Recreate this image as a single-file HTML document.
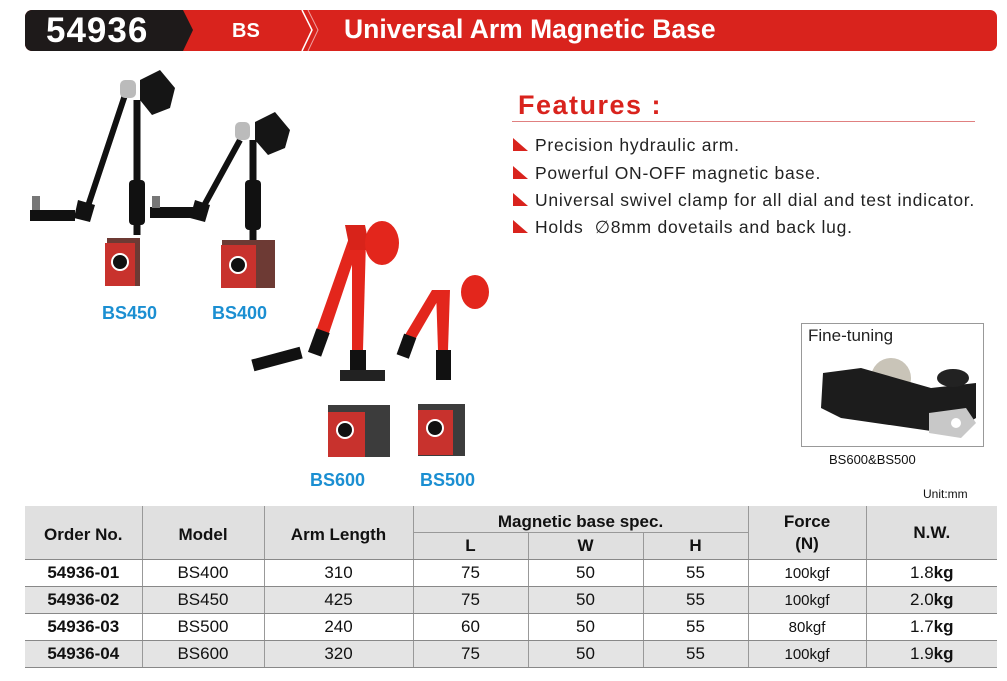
<!DOCTYPE html>
<html><head><meta charset="utf-8"><style>
body{margin:0;width:1007px;height:681px;background:#fff;position:relative;overflow:hidden;font-family:"Liberation Sans",Arial,sans-serif}
.a{position:absolute}
table{position:absolute;left:25px;top:506px;border-collapse:collapse;font-size:17px;color:#111;table-layout:fixed;width:972px}
td{border:1px solid #999;border-top:none;border-bottom:none;text-align:center;padding:0;height:26px;white-space:nowrap}
tr.r td{border-bottom:1.5px solid #888}
tr.g td{background:#e4e4e4}
.h td{background:#e0e0e0;font-weight:bold}
.f{font-size:17.5px;color:#222;letter-spacing:0.75px;position:absolute;left:535px;white-space:nowrap}
.tri{position:absolute;left:513px;width:0;height:0;border-left:15px solid #d9231d;border-top:13px solid transparent}
</style></head><body>
<!-- header -->
<div class="a" style="left:25px;top:10px;width:972px;height:41px;background:#d9231d;border-radius:7px"></div>
<div class="a" style="left:25px;top:10px;width:155px;height:41px;background:#1e1a1a;border-radius:7px 0 0 7px"></div>
<svg class="a" style="left:175px;top:10px" width="20" height="41"><polygon points="0,0 8,0 18,20 8,41 0,41" fill="#1e1a1a"/></svg>
<svg class="a" style="left:300px;top:10px" width="30" height="41"><polyline points="2,0 12,20 2,41" fill="none" stroke="#fff" stroke-width="1.5"/><polyline points="8,0 18,20 8,41" fill="none" stroke="#f0a0a0" stroke-width="1"/></svg>
<div class="a" style="left:46px;top:11px;color:#fff;font-weight:bold;font-size:35px;letter-spacing:1px">54936</div>
<div class="a" style="left:232px;top:20px;color:#fff;font-weight:bold;font-size:20px">BS</div>
<div class="a" style="left:344px;top:14px;color:#fff;font-weight:bold;font-size:26.5px">Universal Arm Magnetic Base</div>
<!-- features -->
<div class="a" style="left:518px;top:90px;color:#d9231d;font-weight:bold;font-size:27px;letter-spacing:1.5px">Features :</div>
<div class="a" style="left:512px;top:121px;width:463px;height:1px;background:#e08080"></div>
<div class="tri" style="top:138px"></div><div class="f" style="top:135px">Precision hydraulic arm.</div>
<div class="tri" style="top:166px"></div><div class="f" style="top:163px">Powerful ON-OFF magnetic base.</div>
<div class="tri" style="top:193px"></div><div class="f" style="top:190px">Universal swivel clamp for all dial and test indicator.</div>
<div class="tri" style="top:220px"></div><div class="f" style="top:217px">Holds &nbsp;∅8mm dovetails and back lug.</div>
<!-- fine tuning -->
<div class="a" style="left:801px;top:323px;width:181px;height:122px;border:1px solid #999"></div>
<div class="a" style="left:808px;top:326px;font-size:17px;color:#222">Fine-tuning</div>
<svg class="a" style="left:801px;top:323px" width="182" height="123">
<circle cx="90" cy="55" r="20" fill="#c9c4b8"/>
<path d="M22,50 L60,45 L130,65 L175,60 L175,95 L150,110 L130,108 L40,95 L20,85 Z" fill="#1c1c1c"/>
<path d="M128,90 L165,85 L175,100 L160,115 L128,110 Z" fill="#c8c8c8"/>
<circle cx="155" cy="100" r="5" fill="#fff"/>
<ellipse cx="152" cy="55" rx="16" ry="9" fill="#222"/>
</svg>
<div class="a" style="left:829px;top:452px;font-size:13px;color:#111">BS600&amp;BS500</div>
<!-- tools -->
<svg class="a" style="left:0;top:55px" width="500" height="430">
<g transform="translate(0,-55)">
<line x1="137" y1="100" x2="137" y2="235" stroke="#111" stroke-width="7"/>
<rect x="129" y="180" width="16" height="45" rx="4" fill="#111"/>
<line x1="125" y1="95" x2="85" y2="215" stroke="#111" stroke-width="6"/>
<path d="M78,200 L95,205 L90,222 L74,218 Z" fill="#111"/>
<rect x="30" y="210" width="45" height="11" fill="#111"/>
<rect x="32" y="196" width="8" height="14" fill="#777"/>
<rect x="120" y="80" width="16" height="18" rx="5" fill="#bbb"/>
<path d="M140,80 L160,70 L175,88 L170,108 L152,115 L140,100 Z" fill="#151515"/>
<rect x="107" y="238" width="33" height="48" fill="#6d3a34"/>
<rect x="105" y="243" width="30" height="43" fill="#c8322d"/>
<circle cx="120" cy="262" r="9" fill="#fff"/><circle cx="120" cy="262" r="7" fill="#111"/>
<line x1="253" y1="140" x2="253" y2="240" stroke="#111" stroke-width="7"/>
<rect x="245" y="180" width="16" height="50" rx="4" fill="#111"/>
<line x1="240" y1="140" x2="200" y2="213" stroke="#111" stroke-width="6"/>
<path d="M195,200 L210,205 L205,222 L190,218 Z" fill="#111"/>
<rect x="150" y="207" width="45" height="11" fill="#111"/>
<rect x="152" y="196" width="8" height="12" fill="#777"/>
<rect x="235" y="122" width="15" height="18" rx="5" fill="#bbb"/>
<path d="M255,122 L275,112 L290,130 L285,148 L268,155 L255,140 Z" fill="#151515"/>
<rect x="222" y="240" width="53" height="48" fill="#6d3a34"/>
<rect x="221" y="245" width="35" height="43" fill="#c8322d"/>
<circle cx="238" cy="265" r="9" fill="#fff"/><circle cx="238" cy="265" r="7" fill="#111"/>
<path d="M350,235 L362,235 L325,345 L313,340 Z" fill="#e3261c"/>
<path d="M352,240 L366,240 L363,350 L352,350 Z" fill="#e3261c"/>
<path d="M345,225 L365,225 L370,250 L350,250 Z" fill="#d8231a"/>
<ellipse cx="382" cy="243" rx="17" ry="22" fill="#e3261c"/>
<rect x="312" y="330" width="14" height="25" fill="#111" transform="rotate(20 319 342)"/>
<rect x="350" y="350" width="16" height="30" fill="#111"/>
<rect x="252" y="353" width="50" height="12" fill="#111" transform="rotate(-15 277 359)"/>
<rect x="340" y="370" width="45" height="11" fill="#222"/>
<rect x="328" y="405" width="62" height="52" fill="#3c3c3c"/>
<rect x="328" y="412" width="37" height="45" fill="#c8322d"/>
<circle cx="345" cy="430" r="9" fill="#fff"/><circle cx="345" cy="430" r="7" fill="#111"/>
<path d="M432,290 L444,290 L412,345 L402,340 Z" fill="#e3261c"/>
<path d="M436,290 L450,290 L448,350 L438,350 Z" fill="#e3261c"/>
<ellipse cx="475" cy="292" rx="14" ry="17" fill="#e3261c"/>
<rect x="400" y="335" width="13" height="22" fill="#111" transform="rotate(20 406 346)"/>
<rect x="436" y="350" width="15" height="30" fill="#111"/>
<rect x="418" y="404" width="47" height="52" fill="#3c3c3c"/>
<rect x="418" y="410" width="35" height="45" fill="#c8322d"/>
<circle cx="435" cy="428" r="9" fill="#fff"/><circle cx="435" cy="428" r="7" fill="#111"/>
</g></svg>
<div class="a" style="left:102px;top:303px;color:#1b8fd2;font-weight:bold;font-size:18px">BS450</div>
<div class="a" style="left:212px;top:303px;color:#1b8fd2;font-weight:bold;font-size:18px">BS400</div>
<div class="a" style="left:310px;top:470px;color:#1b8fd2;font-weight:bold;font-size:18px">BS600</div>
<div class="a" style="left:420px;top:470px;color:#1b8fd2;font-weight:bold;font-size:18px">BS500</div>
<div class="a" style="left:923px;top:487px;font-size:12px;color:#111">Unit:mm</div>
<table>
<colgroup><col style="width:117px"><col style="width:122px"><col style="width:149px"><col style="width:115px"><col style="width:115px"><col style="width:105px"><col style="width:118px"><col style="width:131px"></colgroup>
<tr class="h"><td rowspan="2" style="border-left:none;border-bottom:1.5px solid #888;padding-top:5px">Order No.</td><td rowspan="2" style="border-bottom:1.5px solid #888;padding-top:5px">Model</td><td rowspan="2" style="border-bottom:1.5px solid #888;padding-top:5px">Arm Length</td><td colspan="3" style="height:26px;border-bottom:1px solid #999;vertical-align:bottom">Magnetic base spec.</td><td rowspan="2" style="border-bottom:1.5px solid #888;line-height:22px">Force<br>(N)</td><td rowspan="2" style="border-right:none;border-bottom:1.5px solid #888">N.W.</td></tr>
<tr class="h r"><td>L</td><td>W</td><td>H</td></tr>
<tr class="r"><td style="border-left:none;font-weight:bold">54936-01</td><td>BS400</td><td>310</td><td>75</td><td>50</td><td>55</td><td style="font-size:15px">100kgf</td><td style="border-right:none">1.8<b>kg</b></td></tr>
<tr class="r g"><td style="border-left:none;font-weight:bold">54936-02</td><td>BS450</td><td>425</td><td>75</td><td>50</td><td>55</td><td style="font-size:15px">100kgf</td><td style="border-right:none">2.0<b>kg</b></td></tr>
<tr class="r"><td style="border-left:none;font-weight:bold">54936-03</td><td>BS500</td><td>240</td><td>60</td><td>50</td><td>55</td><td style="font-size:15px">80kgf</td><td style="border-right:none">1.7<b>kg</b></td></tr>
<tr class="r g"><td style="border-left:none;font-weight:bold">54936-04</td><td>BS600</td><td>320</td><td>75</td><td>50</td><td>55</td><td style="font-size:15px">100kgf</td><td style="border-right:none">1.9<b>kg</b></td></tr>
</table>
</body></html>
